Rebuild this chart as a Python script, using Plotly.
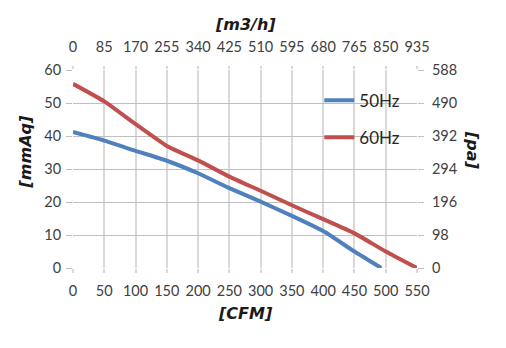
import plotly.graph_objects as go

# Data
cfm_50 = [0, 50, 100, 150, 200, 250, 300, 350, 400, 450, 493]
mmaq_50 = [41.2, 38.6, 35.5, 32.5, 28.7, 24.2, 20.1, 15.8, 11.2, 5.0, 0]
cfm_60 = [0, 50, 100, 150, 200, 250, 300, 350, 400, 450, 500, 550]
mmaq_60 = [55.8, 50.5, 43.6, 37.0, 32.6, 27.7, 23.4, 19.0, 14.8, 10.5, 5.0, 0]

cfm_ticks = [0, 50, 100, 150, 200, 250, 300, 350, 400, 450, 500, 550]
m3h_ticks = [0, 85, 170, 255, 340, 425, 510, 595, 680, 765, 850, 935]
mmaq_ticks = [0, 10, 20, 30, 40, 50, 60]
pa_ticks = [0, 98, 196, 294, 392, 490, 588]

BLUE = "#4F81BD"
RED = "#C0504D"
FONT = "Lato"
TICK_COLOR = "#404040"

fig = go.Figure()
fig.add_trace(go.Scatter(x=cfm_50, y=mmaq_50, name="50Hz", mode="lines",
                         line=dict(color=BLUE, width=4, shape="spline", smoothing=0.5),
                         legendgroup="a"))
fig.add_trace(go.Scatter(x=cfm_60, y=mmaq_60, name="60Hz", mode="lines",
                         line=dict(color=RED, width=4, shape="spline", smoothing=0.5),
                         legendgroup="b"))
# invisible trace to activate secondary axes
fig.add_trace(go.Scatter(x=[m3h_ticks[0]], y=[pa_ticks[0]], xaxis="x2", yaxis="y2",
                         mode="markers", marker=dict(opacity=0), showlegend=False,
                         hoverinfo="skip"))

tickfont = dict(family=FONT, size=14.5, color=TICK_COLOR)
titlefont = dict(family="DejaVu Sans", size=16, color="#1a1a1a", weight="bold", style="italic")

fig.update_layout(
    width=506, height=348,
    margin=dict(l=73, r=89, t=70, b=80),
    paper_bgcolor="white", plot_bgcolor="white",
    showlegend=True,
    legend=dict(x=0.716, y=0.936, xanchor="left", yanchor="top",
                font=dict(family=FONT, size=17, color="#262626"),
                bgcolor="rgba(0,0,0,0)", traceorder="grouped",
                tracegroupgap=12, itemwidth=30),
    xaxis=dict(range=[0, 550], tickvals=cfm_ticks, showgrid=True,
               gridcolor="#d9d9d9", gridwidth=2, zeroline=False, showline=False,
               ticks="outside", ticklen=4, tickcolor="#d9d9d9", tickwidth=2,
               tickfont=tickfont, ticklabelstandoff=6, fixedrange=True),
    yaxis=dict(range=[0, 60], tickvals=mmaq_ticks, showgrid=True,
               gridcolor="#bfbfbf", gridwidth=1.3, zeroline=False, showline=False,
               ticks="outside", ticklen=6, tickcolor="#bfbfbf", tickwidth=1.3,
               tickfont=tickfont, ticklabelstandoff=2),
    xaxis2=dict(range=[0, 935], tickvals=m3h_ticks, overlaying="x", side="top",
                showgrid=False, zeroline=False, showline=False,
                ticks="outside", ticklen=3, tickcolor="#d9d9d9", tickwidth=2,
                tickfont=tickfont, ticklabelstandoff=8),
    yaxis2=dict(range=[0, 588], tickvals=pa_ticks, overlaying="y", side="right",
                showgrid=False, zeroline=False, showline=False,
                ticks="outside", ticklen=6, tickcolor="#bfbfbf", tickwidth=1.3,
                tickfont=tickfont, ticklabelstandoff=5),
    annotations=[
        dict(text="[CFM]", xref="paper", yref="paper", x=0.5, y=-0.228,
             xanchor="center", yanchor="middle", showarrow=False, font=titlefont),
        dict(text="[m3/h]", xref="paper", yref="paper", x=0.5, y=1.232,
             xanchor="center", yanchor="middle", showarrow=False, font=titlefont),
        dict(text="[mmAq]", xref="paper", yref="paper", x=-0.137, y=0.588,
             xanchor="center", yanchor="middle", showarrow=False, font=titlefont,
             textangle=-90),
        dict(text="[pa]", xref="paper", yref="paper", x=1.16, y=0.596,
             xanchor="center", yanchor="middle", showarrow=False, font=titlefont,
             textangle=90),
    ],
)

fig.write_html("out.html")
